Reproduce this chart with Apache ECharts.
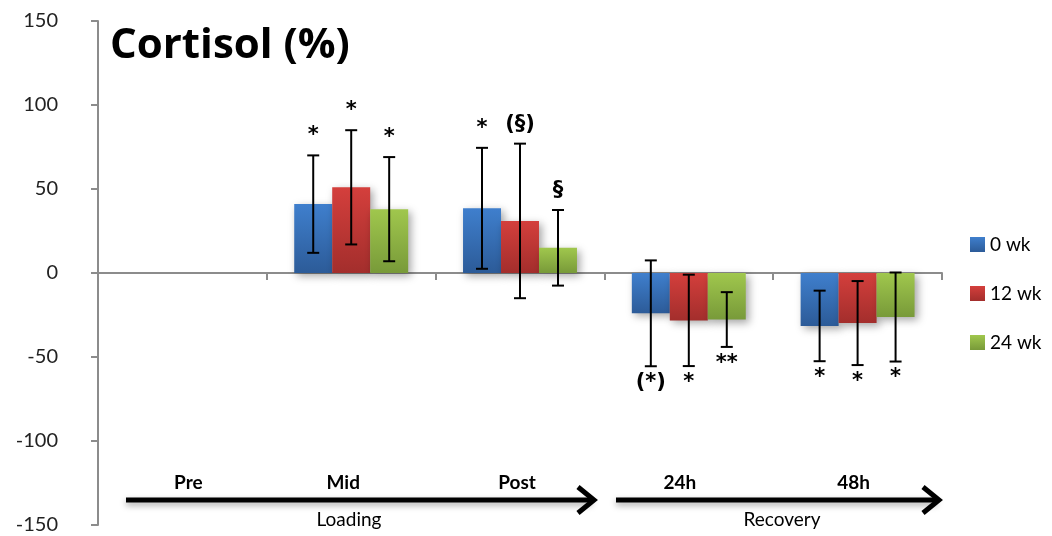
<!DOCTYPE html>
<html>
<head>
<meta charset="utf-8">
<script src="https://cdn.jsdelivr.net/npm/echarts@6/dist/echarts.min.js"></script>
<style>
  html, body { margin: 0; padding: 0; background: #fff; }
  #chart { width: 1052px; height: 536px; }
</style>
</head>
<body>
<div id="chart"></div>
<script>
// Cortisol change (%) by time point and training period
const categories = ['Pre', 'Mid', 'Post', '24h', '48h'];
const seriesNames = ['0 wk', '12 wk', '24 wk'];

const wk0  = [0, 41, 38.5, -24, -31.5];
const wk12 = [0, 51, 31, -28.2, -29.8];
const wk24 = [0, 38, 15, -27.7, -26.2];

// error bar half-lengths (no error bar at Pre)
const err0  = [null, 29, 36, 31.5, 21];
const err12 = [null, 34, 46, 27.2, 25];
const err24 = [null, 31, 22.5, 16.3, 26.5];

// significance markers
const sig0  = ['', '*', '*', '(*)', '*'];
const sig12 = ['', '*', '(§)', '*', '*'];
const sig24 = ['', '*', '§', '**', '*'];

const yMin = -150, yMax = 150, yStep = 50;
const phases = ['Loading', 'Recovery'];

const FONT = 'Lato, "Open Sans", sans-serif';
const MARK_FONT = 'bold 21px "DejaVu Sans", sans-serif';
const GAP = 0.325;

// small horizontal nudges for the time-point labels on the timeline
const labelShift = [6, -8, -3, -9, -4];

const colors = [
  ['#3f7fcd', '#2c5b98'],
  ['#d43f3c', '#a32e2c'],
  ['#a0c74d', '#789a39']
];
function grad(c) {
  return new echarts.graphic.LinearGradient(0, 0, 0, 1, [
    { offset: 0, color: c[0] }, { offset: 1, color: c[1] }
  ]);
}

const values = [wk0, wk12, wk24];
const errors = [err0, err12, err24];
const sigs = [sig0, sig12, sig24];

const barSeries = values.map((vals, s) => ({
  type: 'bar',
  name: seriesNames[s],
  data: vals,
  barGap: '0%',
  barCategoryGap: (GAP * 100) + '%',
  itemStyle: {
    color: grad(colors[s]),
    shadowBlur: 8,
    shadowColor: 'rgba(0,0,0,0.35)',
    shadowOffsetX: 3,
    shadowOffsetY: 3
  },
  z: 2
}));

const errSeries = values.map((vals, s) => ({
  type: 'custom',
  z: 5,
  silent: true,
  data: categories
    .map((c, i) => (errors[s][i] == null ? null : [i, vals[i], errors[s][i]]))
    .filter(d => d !== null),
  renderItem(params, api) {
    const i = api.value(0), v = api.value(1), e = api.value(2);
    const band = api.size([1, 0])[0];
    const bw = band * (1 - GAP) / 3;
    const x = api.coord([i, v])[0] + (s - 1) * bw;
    const yT = api.coord([i, v + e])[1];
    const yB = api.coord([i, v - e])[1];
    const cap = 6;
    const neg = v < 0;
    const ls = { stroke: '#000', lineWidth: 2 };
    return {
      type: 'group',
      children: [
        { type: 'line', shape: { x1: x, y1: yT, x2: x, y2: yB }, style: ls },
        { type: 'line', shape: { x1: x - cap, y1: yT, x2: x + cap, y2: yT }, style: ls },
        { type: 'line', shape: { x1: x - cap, y1: yB, x2: x + cap, y2: yB }, style: ls },
        {
          type: 'text',
          style: {
            text: sigs[s][i],
            x: x,
            y: neg ? yB + 6 : yT - 9,
            align: 'center',
            verticalAlign: neg ? 'top' : 'bottom',
            font: MARK_FONT,
            fill: '#000'
          }
        }
      ]
    };
  }
}));

// timeline arrows under the plot
function arrow(x1, x2, y) {
  return [
    {
      type: 'line',
      shape: { x1: x1, y1: y, x2: x2 - 2, y2: y },
      style: { stroke: '#000', lineWidth: 5, shadowBlur: 6, shadowColor: 'rgba(0,0,0,0.35)', shadowOffsetY: 3 }
    },
    {
      type: 'polyline',
      shape: { points: [[x2 - 16, y - 13], [x2, y], [x2 - 16, y + 13]] },
      style: { stroke: '#000', fill: null, lineWidth: 5, lineJoin: 'miter' }
    }
  ];
}

const rich = {};
labelShift.forEach((d, i) => {
  rich['p' + i] = {
    fontSize: 19, fontWeight: 'bold', color: '#000', fontFamily: FONT,
    padding: d >= 0 ? [0, 0, 0, 2 * d] : [0, -2 * d, 0, 0]
  };
});

const chart = echarts.init(document.getElementById('chart'), null, { renderer: 'canvas' });
chart.setOption({
  animation: false,
  backgroundColor: '#fff',
  textStyle: { fontFamily: FONT },
  title: {
    text: 'Cortisol (%)',
    left: 105,
    top: 20,
    textStyle: { fontSize: 42, fontWeight: 'bold', color: '#000', fontFamily: '"Open Sans", Lato, sans-serif' }
  },
  legend: {
    data: seriesNames,
    orient: 'vertical',
    left: 965,
    top: 230,
    icon: 'rect',
    itemWidth: 15,
    itemHeight: 15,
    itemGap: 30,
    textStyle: { fontSize: 19, color: '#000', fontFamily: FONT }
  },
  grid: { left: 98, right: 110, top: 21, bottom: 11, containLabel: false },
  xAxis: [
    {
      type: 'category',
      data: categories,
      axisLine: { onZero: true, lineStyle: { color: '#8c8c8c', width: 2 } },
      axisTick: { show: true, length: 7, lineStyle: { color: '#8c8c8c', width: 2 } },
      axisLabel: { show: false },
      splitLine: { show: false }
    },
    {
      type: 'category',
      data: categories,
      position: 'bottom',
      offset: -60,
      axisLine: { show: false },
      axisTick: { show: false },
      axisLabel: {
        show: true, margin: 8,
        formatter: (v, i) => '{p' + i + '|' + v + '}',
        rich: rich
      },
      splitLine: { show: false }
    }
  ],
  yAxis: {
    type: 'value',
    min: yMin,
    max: yMax,
    interval: yStep,
    axisLine: { show: true, lineStyle: { color: '#8c8c8c', width: 2 } },
    axisTick: { show: true, length: 7, lineStyle: { color: '#8c8c8c', width: 2 } },
    axisLabel: { fontSize: 20, color: '#222', margin: 40, fontFamily: FONT },
    splitLine: { show: false }
  },
  series: barSeries.concat(errSeries),
  graphic: [
    ...arrow(126, 594, 500),
    ...arrow(616, 939, 500),
    {
      type: 'text',
      style: { text: phases[0], x: 349, y: 520, align: 'center', verticalAlign: 'middle', font: '19px ' + FONT, fill: '#000' }
    },
    {
      type: 'text',
      style: { text: phases[1], x: 782, y: 520, align: 'center', verticalAlign: 'middle', font: '19px ' + FONT, fill: '#000' }
    }
  ]
});
</script>
</body>
</html>
